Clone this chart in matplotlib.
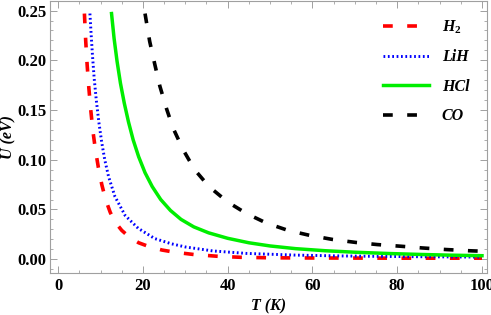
import numpy as np
import matplotlib
matplotlib.use('Agg')
import matplotlib.pyplot as plt
from matplotlib.ticker import MultipleLocator, FormatStrFormatter

# Valores: T (K) y U (eV)
t_h2 = [6.2, 6.5, 6.85, 7.25, 7.7, 8.2, 8.8, 9.5, 10.3, 11.2, 12.3, 13.5, 15.0, 16.8, 19.0,
        21.6, 24.5, 27.5, 32.0, 37.7, 43.0, 50, 60, 70, 80, 90, 100]
u_h2 = [0.247, 0.220, 0.195, 0.172, 0.150, 0.129, 0.110, 0.092, 0.075, 0.060, 0.047, 0.037,
        0.029, 0.0222, 0.0165, 0.0124, 0.0092, 0.0070, 0.0047, 0.0029, 0.0019, 0.0014,
        0.0012, 0.0011, 0.0010, 0.0010, 0.0010]

t_lih = [7.5, 7.8, 8.1, 8.5, 9.0, 9.6, 10.3, 11.0, 11.9, 13.4, 15.8, 18.9, 22.8, 26.7, 30.0,
         36.5, 44.4, 56, 66, 76, 88, 100]
u_lih = [0.247, 0.225, 0.205, 0.182, 0.160, 0.138, 0.117, 0.100, 0.083, 0.063, 0.044, 0.031,
         0.0207, 0.0155, 0.0123, 0.0083, 0.0058, 0.0041, 0.0033, 0.0028, 0.0024, 0.0021]

t_hcl = [12.6, 13.2, 13.9, 14.7, 15.6, 16.6, 17.7, 19.0, 20.5, 22.2, 24.2, 26.5, 29.0, 32.0,
         35.5, 40, 45, 50, 56, 63, 70, 78, 86, 93, 100]
u_hcl = [0.247, 0.222, 0.199, 0.177, 0.157, 0.138, 0.120, 0.103, 0.087, 0.073, 0.060, 0.049,
         0.040, 0.0325, 0.0265, 0.021, 0.0165, 0.0133, 0.0106, 0.0085, 0.0070, 0.0057,
         0.0047, 0.0040, 0.0035]

t_co = [20.5, 21.6, 22.8, 24.0, 25.6, 27.1, 29.5, 32.2, 35.6, 40.0, 44.4, 49.1, 54.2, 59.3,
        64.8, 70.3, 75.3, 80.9, 85.9, 91.5, 96.9, 100]
u_co = [0.247, 0.219, 0.196, 0.174, 0.151, 0.132, 0.110, 0.090, 0.073, 0.0575, 0.046, 0.0364,
        0.029, 0.024, 0.0198, 0.0168, 0.0147, 0.013, 0.0113, 0.0097, 0.0085, 0.008]

plt.rcParams['font.family'] = ['Liberation Serif', 'DejaVu Serif']
plt.rcParams['mathtext.fontset'] = 'custom'
plt.rcParams['mathtext.it'] = 'Liberation Serif:italic:bold'
plt.rcParams['mathtext.rm'] = 'Liberation Serif:bold'

fig = plt.figure(figsize=(4.91, 3.15), dpi=100)
ax = fig.add_axes([0.102, 0.133, 0.890, 0.865])

ax.plot(t_h2, u_h2, color='#ff0000', lw=2.6, dashes=(2.7, 4.0), label=r'$H_2$')
ax.plot(t_lih, u_lih, color='#0000ff', lw=2.1, dashes=(0.6, 0.9), label='LiH')
ax.plot(t_hcl, u_hcl, color='#00ee00', lw=2.5, label='HCl')
ax.plot(t_co, u_co, color='black', lw=2.6, dashes=(2.7, 4.0), label='CO')

ax.set_xlim(-1.9, 101.2)
ax.set_ylim(-0.014, 0.26)
ax.xaxis.set_major_locator(MultipleLocator(20))
ax.xaxis.set_minor_locator(MultipleLocator(5))
ax.yaxis.set_major_locator(MultipleLocator(0.05))
ax.yaxis.set_minor_locator(MultipleLocator(0.01))
ax.yaxis.set_major_formatter(FormatStrFormatter('%.2f'))

for s in ax.spines.values():
    s.set_color('#a0a0a0')
    s.set_linewidth(0.8)
ax.tick_params(which='both', direction='in', top=True, right=True, color='#a0a0a0',
               labelsize=12)
ax.tick_params(axis='y', pad=2.5)
ax.tick_params(axis='x', pad=3.5)
ax.tick_params(which='major', length=5, width=0.7)
ax.tick_params(which='minor', length=2.5, width=0.6)
for lbl in ax.get_xticklabels() + ax.get_yticklabels():
    lbl.set_fontweight('bold')

ax.set_xlabel('T (K)', fontsize=11.5, fontweight='bold', fontstyle='italic', labelpad=3)
ax.set_ylabel('U (eV)', fontsize=11.5, fontweight='bold', fontstyle='italic', labelpad=1)

leg = ax.legend(loc='upper right', frameon=False, handlelength=2.9, handletextpad=0.8,
                labelspacing=0.85, borderaxespad=0.7,
                prop={'weight': 'bold', 'style': 'italic', 'size': 11.5})

fig.savefig('out.png', dpi=100)
